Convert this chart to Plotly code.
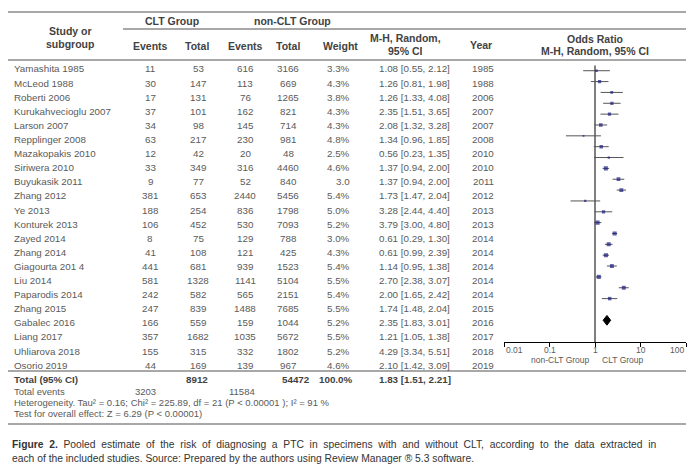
import math
import plotly.graph_objects as go

W, H = 696, 472

# ---------------- data ----------------
studies = ["Yamashita 1985", "McLeod 1988", "Roberti 2006", "Kurukahvecioglu 2007", "Larson 2007",
           "Repplinger 2008", "Mazakopakis 2010", "Siriwera 2010", "Buyukasik 2011", "Zhang 2012",
           "Ye 2013", "Konturek 2013", "Zayed 2014", "Zhang 2014", "Giagourta 201 4", "Liu 2014",
           "Paparodis 2014", "Zhang 2015", "Gabalec 2016", "Liang 2017", "Uhliarova 2018", "Osorio 2019"]
clt_events = [11, 30, 17, 37, 34, 63, 12, 33, 9, 381, 188, 106, 8, 41, 441, 581, 242, 247, 166, 357, 155, 44]
clt_total = [53, 147, 131, 101, 98, 217, 42, 349, 77, 653, 254, 452, 75, 108, 681, 1328, 582, 839, 559, 1682, 315, 169]
non_events = [616, 113, 76, 162, 145, 230, 20, 316, 52, 2440, 836, 530, 129, 121, 939, 1141, 565, 1488, 159, 1035, 332, 139]
non_total = [3166, 669, 1265, 821, 714, 981, 48, 4460, 840, 5456, 1798, 7093, 788, 425, 1523, 5104, 2151, 7685, 1044, 5672, 1802, 967]
weights = ["3.3%", "4.3%", "3.8%", "4.3%", "4.3%", "4.8%", "2.5%", "4.6%", "3.0", "5.4%", "5.0%", "5.2%",
           "3.0%", "4.3%", "5.4%", "5.5%", "5.4%", "5.5%", "5.2%", "5.5%", "5.2%", "4.6%"]
ci_text = ["1.08 [0.55, 2.12]", "1.26 [0.81, 1.98]", "1.26 [1.33, 4.08]", "2.35 [1.51, 3.65]", "2.08 [1.32, 3.28]",
           "1.34 [0.96, 1.85]", "0.56 [0.23, 1.35]", "1.37 [0.94, 2.00]", "1.37 [0.94, 2.00]", "1.73 [1.47, 2.04]",
           "3.28 [2.44, 4.40]", "3.79 [3.00, 4.80]", "0.61 [0.29, 1.30]", "0.61 [0.99, 2.39]", "1.14 [0.95, 1.38]",
           "2.70 [2.38, 3.07]", "2.00 [1.65, 2.42]", "1.74 [1.48, 2.04]", "2.35 [1.83, 3.01]", "1.21 [1.05, 1.38]",
           "4.29 [3.34, 5.51]", "2.10 [1.42, 3.09]"]
years = [1985, 1988, 2006, 2007, 2007, 2008, 2010, 2010, 2011, 2012, 2013, 2013, 2014, 2014, 2014, 2014,
         2014, 2015, 2016, 2017, 2018, 2019]
# odds ratios as drawn in the forest plot
or_plot = [1.08, 1.26, 2.33, 2.35, 2.08, 1.34, 0.56, 1.37, 2.01, 1.73, 3.28, 3.79, 0.61, 1.54, 1.14, 2.70,
           2.00, 1.74, 2.35, 1.21, 4.29, 2.10]
lo_plot = [0.55, 0.81, 1.33, 1.51, 1.32, 0.96, 0.23, 0.94, 0.95, 1.47, 2.44, 3.00, 0.29, 0.99, 0.95, 2.38,
           1.65, 1.48, 1.83, 1.05, 3.34, 1.42]
hi_plot = [2.12, 1.98, 4.08, 3.65, 3.28, 1.85, 1.35, 2.00, 4.23, 2.04, 4.40, 4.80, 1.30, 2.39, 1.38, 3.07,
           2.42, 2.04, 3.01, 1.38, 5.51, 3.09]
pooled_or, pooled_lo, pooled_hi = 1.83, 1.51, 2.21
pooled_text = "1.83 [1.51, 2.21]"
total_clt, total_non, total_weight = 8912, 54472, "100.0%"
events_clt, events_non = 3203, 11584
tick_values = [0.01, 0.1, 1, 10, 100]
tick_labels = ["0.01", "0.1", "1", "10", "100"]
heterogeneity = "Heterogeneity. Tau² = 0.16; Chi² = 225.89, df = 21 (P < 0.00001 ); I² = 91 %"
overall = "Test for overall effect: Z = 6.29 (P < 0.00001)"
caption1_label = "Figure 2."
caption1_text = "Pooled estimate of the risk of diagnosing a PTC in specimens with and without CLT, according to the data extracted in"
caption2 = "each of the included studies. Source: Prepared by the authors using Review Manager ® 5.3 software."

# ---------------- helpers ----------------
FONT = "Liberation Sans, Arial, sans-serif"
TXT = "#5a5a5a"
HDR = "#424242"
anns = []


def ann(text, x, y, anchor="center", size=9.8, bold=False, color=TXT):
    anns.append(dict(text=f"<b>{text}</b>" if bold else str(text), x=x / W, y=1 - y / H,
                     xref="paper", yref="paper", xanchor=anchor, yanchor="middle",
                     showarrow=False, font=dict(family=FONT, size=size, color=color)))


shapes = []


def hline(y, x0, x1, color="#a8a8a8", width=2):
    shapes.append(dict(type="line", xref="paper", yref="paper", x0=x0 / W, x1=x1 / W,
                       y0=1 - y / H, y1=1 - y / H, line=dict(color=color, width=width)))


# ---------------- table header ----------------
HS = 10.5
hline(4, 0, 678)
hline(21, 115, 678)
hline(52, 0, 678)
ann("Study or", 62, 23, bold=True, size=HS, color=HDR)
ann("subgroup", 62, 36, bold=True, size=HS, color=HDR)
ann("CLT Group", 164, 13, bold=True, size=HS, color=HDR)
ann("non-CLT Group", 284, 13, bold=True, size=HS, color=HDR)
ann("Events", 142, 38, bold=True, size=HS, color=HDR)
ann("Total", 189, 38, bold=True, size=HS, color=HDR)
ann("Events", 237, 38, bold=True, size=HS, color=HDR)
ann("Total", 280, 38, bold=True, size=HS, color=HDR)
ann("Weight", 332, 38, bold=True, size=HS, color=HDR)
ann("M-H, Random,", 397, 30, bold=True, size=HS, color=HDR)
ann("95% CI", 397, 43, bold=True, size=HS, color=HDR)
ann("Year", 473, 37, bold=True, size=HS, color=HDR)
ann("Odds Ratio", 587, 31, bold=True, size=HS, color=HDR)
ann("M-H, Random, 95% CI", 587, 43, bold=True, size=HS, color=HDR)

# ---------------- table rows ----------------
for i, s in enumerate(studies):
    y = 61 + 14.1 * i
    ann(s, 4, y, anchor="left")
    ann(clt_events[i], 142, y)
    ann(clt_total[i], 190, y)
    ann(non_events[i], 237, y)
    ann(non_total[i], 280, y)
    ann(weights[i], 344, y, anchor="right")
    ann(ci_text[i], 369, y, anchor="left")
    ann(years[i], 475, y)

hline(363, 0, 678)
ann("Total (95% CI)", 4, 371, anchor="left", bold=True, color=HDR)
ann(total_clt, 189, 371, bold=True, color=HDR)
ann(total_non, 288, 371, bold=True, color=HDR)
ann(total_weight, 347, 371, anchor="right", bold=True, color=HDR)
ann(pooled_text, 369, 371, anchor="left", bold=True, color=HDR)
ann("Total events", 4, 383, anchor="left", size=9.5)
ann(events_clt, 137, 383, size=9.5)
ann(events_non, 234, 383, size=9.5)
ann(heterogeneity, 4, 394, anchor="left", size=9.5)
ann(overall, 4, 405, anchor="left", size=9.5)
hline(416, 0, 678)
# first caption line is justified in the reference: widen its word gaps
justified = "<b>" + caption1_label.replace(" ", " \u00a0") + "</b> \u00a0" + caption1_text.replace(" ", " \u00a0")
ann(justified, 2, 436, anchor="left", size=10.3, color="#333333")
ann(caption2, 2, 450, anchor="left", size=10.3, color="#333333")

# ---------------- forest plot ----------------
n = len(studies)
DIAMOND_ROW = n + 1
AXIS_ROW = n + 3
TOP_ROW = -0.5
ci_x, ci_y = [], []
for i in range(n):
    ci_x += [lo_plot[i], hi_plot[i], None]
    ci_y += [i, i, None]

weight_vals = [float(w.rstrip("%")) for w in weights]

fig = go.Figure()
fig.add_trace(go.Scatter(x=[1, 1], y=[TOP_ROW, AXIS_ROW], mode="lines",
                         line=dict(color="#000000", width=1), hoverinfo="skip", showlegend=False))
fig.add_trace(go.Scatter(x=ci_x, y=ci_y, mode="lines", line=dict(color="#555555", width=1),
                         hoverinfo="skip", showlegend=False))
fig.add_trace(go.Scatter(x=or_plot, y=list(range(n)), mode="markers",
                         marker=dict(symbol="square", color="#1c1c80",
                                     size=[w * 0.75 for w in weight_vals], line=dict(width=0)),
                         showlegend=False))
fig.add_trace(go.Scatter(x=[pooled_lo, pooled_or, pooled_hi, pooled_or, pooled_lo],
                         y=[DIAMOND_ROW, DIAMOND_ROW - 0.45, DIAMOND_ROW, DIAMOND_ROW + 0.45, DIAMOND_ROW],
                         mode="lines", fill="toself", fillcolor="#000000",
                         line=dict(color="#000000", width=1), showlegend=False, hoverinfo="skip"))

axis_px = 334
top_px = 57.3
for k, (v, lab) in enumerate(zip(tick_values, tick_labels)):
    anchor = "left" if k == 0 else ("right" if k == len(tick_values) - 1 else "center")
    anns.append(dict(text=lab, x=math.log10(v), y=1 - 342 / H, xref="x", yref="paper",
                     xanchor=anchor, yanchor="middle", showarrow=False,
                     font=dict(family=FONT, size=8.5, color=TXT)))
ann("non-CLT Group", 584, 351.5, anchor="right", size=8.5)
ann("CLT Group", 592, 351.5, anchor="left", size=8.5)

fig.update_layout(
    width=W, height=H, margin=dict(l=0, r=0, t=0, b=0),
    paper_bgcolor="white", plot_bgcolor="white",
    xaxis=dict(type="log", range=[-2, 2], domain=[496 / W, 678 / W], anchor="y",
               showline=True, linecolor="#000000", linewidth=1, ticks="outside", ticklen=4,
               tickcolor="#000000", tickvals=tick_values, showticklabels=False,
               showgrid=False, zeroline=False),
    yaxis=dict(range=[AXIS_ROW, TOP_ROW], domain=[1 - axis_px / H, 1 - top_px / H],
               visible=False, showgrid=False, zeroline=False),
    annotations=anns, shapes=shapes, showlegend=False,
)

fig.write_html("out.html")
